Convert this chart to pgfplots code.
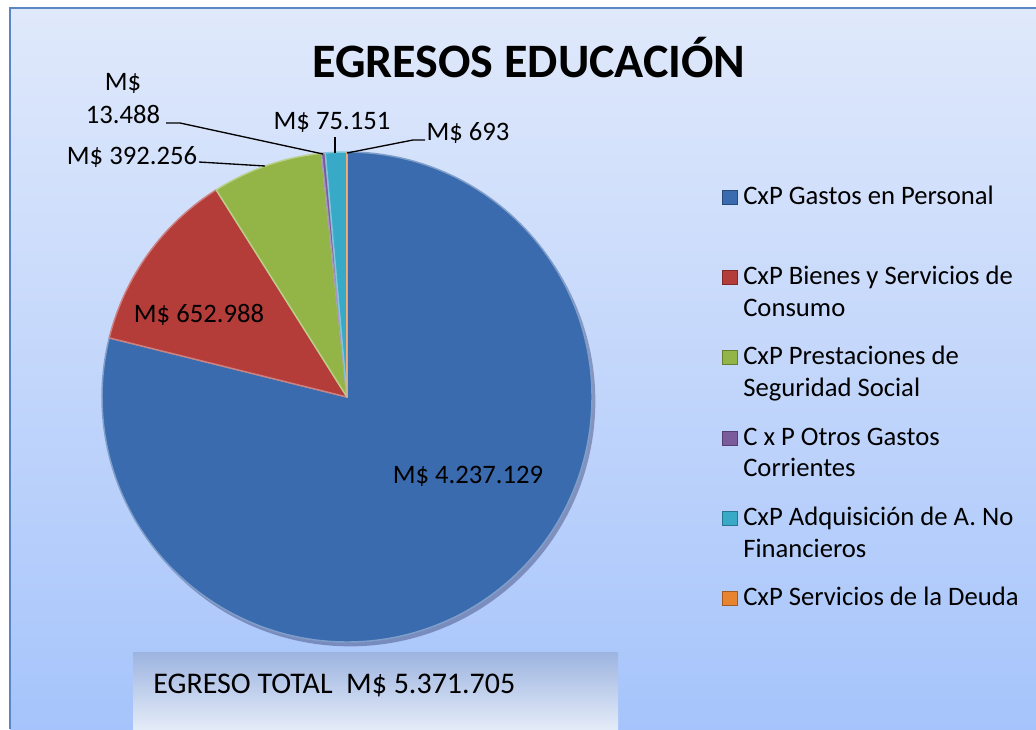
\documentclass[border=0pt]{standalone}
\usepackage{pgfplots}
\pgfplotsset{compat=1.18}
\usepackage{pgfplotstable}
\usepackage{fontspec}
\setmainfont{Carlito}

\definecolor{bgtop}{HTML}{E0E9FB}
\definecolor{bgbot}{HTML}{A6C4FB}
\definecolor{marco}{HTML}{5A86C6}
\definecolor{boxtop}{HTML}{9CB4E0}
\definecolor{boxbot}{HTML}{E4EBF8}
\definecolor{cPer}{HTML}{3A6BAE}
\definecolor{cBie}{HTML}{B43C39}
\definecolor{cPre}{HTML}{93B446}
\definecolor{cOtr}{HTML}{7A5C9C}
\definecolor{cAdq}{HTML}{38A9C6}
\definecolor{cDeu}{HTML}{E8832F}

\pgfplotstableread{
serie valor
Personal 4237129
Bienes 652988
Prestaciones 392256
Otros 13488
Adquisicion 75151
Deuda 693
}\egresos

% angulos acumulados (sentido horario desde las 12)
\pgfplotstablegetelem{0}{valor}\of\egresos\edef\vA{\pgfplotsretval}
\pgfplotstablegetelem{1}{valor}\of\egresos\edef\vB{\pgfplotsretval}
\pgfplotstablegetelem{2}{valor}\of\egresos\edef\vC{\pgfplotsretval}
\pgfplotstablegetelem{3}{valor}\of\egresos\edef\vD{\pgfplotsretval}
\pgfplotstablegetelem{4}{valor}\of\egresos\edef\vE{\pgfplotsretval}
\pgfplotstablegetelem{5}{valor}\of\egresos\edef\vF{\pgfplotsretval}
\edef\tot{\fpeval{\vA+\vB+\vC+\vD+\vE+\vF}}
\edef\aA{90}
\edef\aB{\fpeval{round(\aA-360*\vA/\tot,4)}}
\edef\aC{\fpeval{round(\aB-360*\vB/\tot,4)}}
\edef\aD{\fpeval{round(\aC-360*\vC/\tot,4)}}
\edef\aE{\fpeval{round(\aD-360*\vD/\tot,4)}}
\edef\aF{\fpeval{round(\aE-360*\vE/\tot,4)}}
\edef\aG{\fpeval{round(\aF-360*\vF/\tot,4)}}

\newcommand\lbl{\fontsize{20}{24}\selectfont}
\def\R{183.75pt}
\newcommand\cuna[3]{%
  \filldraw[fill=#1, draw=#1!65!white, line width=1.1pt, line join=round]
    (O) -- ++(#2:\R) arc[start angle=#2, end angle=#3, radius=\R] -- cycle;}
\newcommand\cuadro[2]{%
  \filldraw[fill=#1, draw=#1!70!black, line width=0.6pt]
    (axis cs:722,#2) rectangle (axis cs:737,#2-14);}

\begin{document}
\begin{tikzpicture}
\begin{axis}[
    width=777pt, height=546.75pt,
    scale only axis,
    hide axis,
    xmin=0, xmax=1036,
    ymin=0, ymax=729,
    y dir=reverse,
]
% marco completo para la caja del dibujo
\path (axis cs:0,0) rectangle (axis cs:1036,729);
% fondo
\shade[top color=bgtop, bottom color=bgbot] (axis cs:10,8) rectangle (axis cs:1036,729);
\draw[marco, line width=1.2pt] (axis cs:10,729) -- (axis cs:10,8) -- (axis cs:1036,8);

% sombra y torta
\fill[black!80!blue, opacity=0.3] (axis cs:350,401) circle[radius=184pt];
\coordinate (O) at (axis cs:347,397);
\cuna{cPer}{\aA}{\aB}
\cuna{cBie}{\aB}{\aC}
\cuna{cPre}{\aC}{\aD}
\cuna{cOtr}{\aD}{\aE}
\cuna{cAdq}{\aE}{\aF}
\cuna{cDeu}{\aF}{\aG}

% titulo
\node[anchor=base, font=\bfseries\fontsize{36}{40}\selectfont] at (axis cs:529,77) {EGRESOS EDUCACIÓN};

% etiquetas de datos
\node[anchor=base, font=\lbl] at (axis cs:468,483) {M\$ 4.237.129};
\node[anchor=base, font=\lbl] at (axis cs:199,322) {M\$ 652.988};
\node[anchor=base, font=\lbl] at (axis cs:132,164) {M\$ 392.256};
\node[anchor=base, font=\lbl] at (axis cs:123,90) {M\$};
\node[anchor=base, font=\lbl] at (axis cs:123,123) {13.488};
\node[anchor=base, font=\lbl] at (axis cs:332,129) {M\$ 75.151};
\node[anchor=base, font=\lbl] at (axis cs:468,140) {M\$ 693};
\draw[line width=1pt] (axis cs:199,162) -- (axis cs:265,166);
\draw[line width=1pt] (axis cs:166,123) -- (axis cs:180,123) -- (axis cs:323,154);
\draw[line width=1pt] (axis cs:335,137) -- (axis cs:335,153);
\draw[line width=1pt] (axis cs:425,140) -- (axis cs:413,140) -- (axis cs:347,153);

% leyenda
\cuadro{cPer}{204}
\cuadro{cBie}{284}
\cuadro{cPre}{364}
\cuadro{cOtr}{445}
\cuadro{cAdq}{525}
\cuadro{cDeu}{605}
\node[anchor=base west, font=\lbl, inner sep=0pt] at (axis cs:743,204) {CxP Gastos en Personal};
\node[anchor=base west, font=\lbl, inner sep=0pt] at (axis cs:743,284) {CxP Bienes y Servicios de};
\node[anchor=base west, font=\lbl, inner sep=0pt] at (axis cs:743,316) {Consumo};
\node[anchor=base west, font=\lbl, inner sep=0pt] at (axis cs:743,364) {CxP Prestaciones de};
\node[anchor=base west, font=\lbl, inner sep=0pt] at (axis cs:743,396) {Seguridad Social};
\node[anchor=base west, font=\lbl, inner sep=0pt] at (axis cs:743,445) {C x P Otros Gastos};
\node[anchor=base west, font=\lbl, inner sep=0pt] at (axis cs:743,476) {Corrientes};
\node[anchor=base west, font=\lbl, inner sep=0pt] at (axis cs:743,525) {CxP Adquisición de A. No};
\node[anchor=base west, font=\lbl, inner sep=0pt] at (axis cs:743,557) {Financieros};
\node[anchor=base west, font=\lbl, inner sep=0pt] at (axis cs:743,605) {CxP Servicios de la Deuda};

% cuadro de total
\shade[top color=boxtop, bottom color=boxbot] (axis cs:133,652) rectangle (axis cs:618,729);
\node[anchor=base west, font=\fontsize{22.5}{26}\selectfont, inner sep=0pt] at (axis cs:153,693) {EGRESO TOTAL~~M\$ 5.371.705};
\end{axis}
\end{tikzpicture}
\end{document}
